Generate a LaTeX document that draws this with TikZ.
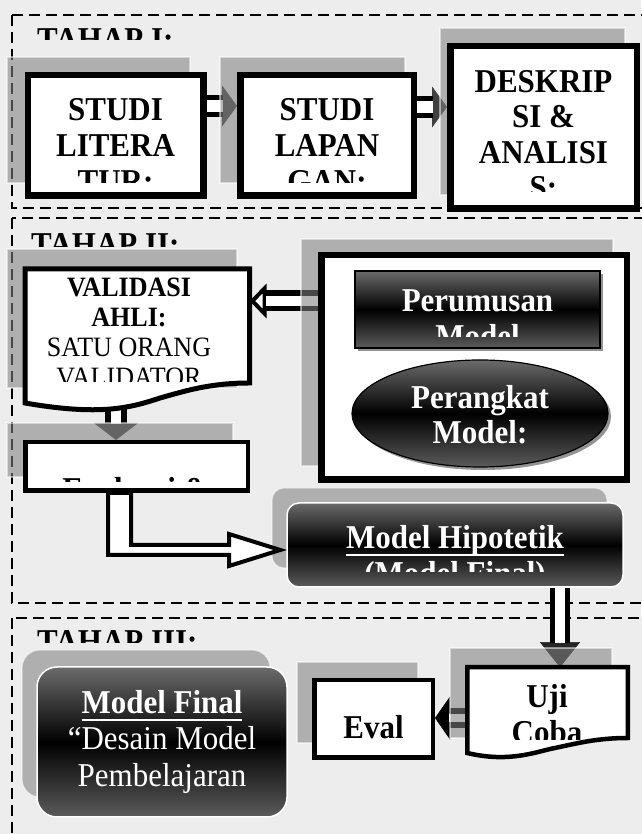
\documentclass[tikz,border=0pt]{standalone}
\usepackage{fontspec}
\setmainfont{Liberation Serif}[FakeStretch=0.93]
\usetikzlibrary{arrows.meta,shapes.geometric,shadows}

\definecolor{marble}{HTML}{EDEDED}
\definecolor{sombre}{HTML}{6B6B6B}

\newsavebox{\garisbox}
\newcommand{\garis}[1]{\sbox{\garisbox}{#1}\rlap{\rule[-7.5pt]{\wd\garisbox}{2.3pt}}\usebox{\garisbox}}

\pgfdeclarelayer{bg}
\pgfdeclarelayer{arr}
\pgfdeclarelayer{shd}
\pgfsetlayers{bg,arr,shd,main}

\tikzset{
  tahap/.style={draw, line width=2.5pt, dash pattern=on 11pt off 6pt, fill=marble},
  bayang/.style={fill=black!50, fill opacity=0.57, draw=white, draw opacity=0.5, line width=1.2pt},
  kotak/.style={draw, line width=6.5pt, fill=white, inner sep=0pt},
  kotaktipis/.style={draw, line width=4.5pt, fill=white, inner sep=0pt},
  dokumen/.style={draw, line width=5pt, fill=white, line join=miter},
  gelap/.style={draw, line width=1.2pt, top color=sombre, bottom color=sombre!85!black, middle color=black, inner sep=0pt,
    drop shadow={shadow xshift=3pt, shadow yshift=-3pt, fill=black!60, opacity=0.7}},
  bulat/.style={draw=white, line width=1.5pt, top color=sombre, bottom color=sombre!85!black, middle color=black, inner sep=0pt},
  isi/.style={font=\bfseries\fontsize{33.3}{36}\selectfont, align=center, inner sep=0pt, anchor=north},
  judul/.style={font=\bfseries\fontsize{33.3}{36}\selectfont, inner sep=0pt, anchor=north west},
  batang/.style={line width=#1, double=white},
  blok/.style={draw, line width=4pt, fill=white, line join=miter},
}

\begin{document}
\begin{tikzpicture}[x=1pt,y=1pt]
\useasboundingbox (0,0) rectangle (641,834);

\begin{pgfonlayer}{bg}
\fill[marble] (0,0) rectangle (641,834);
\draw[tahap] (12,819) rectangle (700,626);
\draw[tahap] (12,616) rectangle (700,231);
\draw[tahap] (12,216) rectangle (700,-30);
\begin{scope}
\clip (30,812) rectangle (300,794);
\node[judul] (tahap1) at (37,806) {TAHAP I:};
\end{scope}
\begin{scope}
\clip (25,606) rectangle (300,587);
\node[judul] (tahap2) at (31,601) {TAHAP II:};
\end{scope}
\begin{scope}
\clip (30,210) rectangle (300,191);
\node[judul] (tahap3) at (37,204) {TAHAP III:};
\end{scope}
\end{pgfonlayer}

% tahap I
\node[kotak, minimum width=175.5pt, minimum height=120.5pt] (studilit) at (115.5,698.5) {};
\node[kotak, minimum width=173.5pt, minimum height=120.5pt] (studilap) at (327,698.5) {};
\node[kotak, minimum width=186.5pt, minimum height=162.5pt] (deskrip) at (543.5,706.5) {};

% tahap II
\draw[dokumen] (25,565) coordinate (valnw) -- (249.5,565) coordinate (valne) -- (249.5,451)
  .. controls (210,451) and (185,443) .. (160,436)
  .. controls (130,426) and (100,418) .. (25,431) -- cycle;
\node[kotak, minimum width=305.5pt, minimum height=224.5pt] (wadah) at (474,466.5) {};
\node[gelap, minimum width=245pt, minimum height=77pt] (rumusan) at (477.5,524.5) {};
\node[gelap, ellipse, minimum width=256pt, minimum height=107pt] (perangkat) at (480,420.5) {};
\node[kotaktipis, minimum width=222.5pt, minimum height=48.5pt] (evaluasi) at (136.5,367.5) {};
\node[bulat, rounded corners=12pt, minimum width=336pt, minimum height=84pt] (hipotetik) at (455,289) {};

% tahap III
\node[bulat, rounded corners=20pt, minimum width=250pt, minimum height=150pt] (final) at (162,92) {};
\node[kotaktipis, minimum width=118.5pt, minimum height=77.5pt] (eval) at (373.5,115) {};
\draw[dokumen, line width=4.5pt] (467.25,166.75) coordinate (ujinw) -- (627.75,166.75) -- (627.75,96)
  .. controls (595,96) and (575,90) .. (550,85)
  .. controls (530,80) and (505,72) .. (467.25,81) -- cycle;
\coordinate (ujin) at (560,166.75);

\begin{pgfonlayer}{shd}
\draw[bayang] (7,777) rectangle (190,651);
\draw[bayang] (220,777) rectangle (405,651);
\draw[bayang] (440,806) rectangle (625,639);
\draw[bayang] (7,585) rectangle (237,446);
\draw[bayang] (301,595) rectangle (613,368);
\draw[bayang] (7,411) rectangle (233,357);
\draw[bayang, rounded corners=12pt] (272,346) rectangle (607,266);
\draw[bayang, rounded corners=18pt] (22,184) rectangle (270,37);
\draw[bayang] (297,172) rectangle (418,91);
\draw[bayang] (450,186) rectangle (612,96);
\end{pgfonlayer}

\begin{pgfonlayer}{arr}
\coordinate (a1) at ([yshift=29.5pt]studilit.east);
\draw[black!75, -{Triangle[length=15pt,width=41pt]}] (a1) -- (a1 -| studilap.west);
\draw[batang=5pt, double distance=12pt, shorten >=14pt] (a1) -- (a1 -| studilap.west);
\coordinate (a2) at ([yshift=28.5pt]studilap.east);
\draw[black!75, -{Triangle[length=15pt,width=41pt]}] (a2) -- (a2 -| deskrip.west);
\draw[batang=5pt, double distance=12pt, shorten >=14pt] (a2) -- (a2 -| deskrip.west);
\coordinate (a3) at ([yshift=66.5pt]wadah.west);
\draw[line width=4pt, -{Triangle[length=17pt,width=34pt,fill=white]}] (a3) -- (a3 -| valne);
\draw[batang=5.5pt, double distance=10pt, shorten >=16pt] (a3) -- (a3 -| valne);
\coordinate (a4) at (116,432);
\draw[black!75, -{Triangle[length=17pt,width=44pt]}] (a4) -- (a4 |- evaluasi.north);
\draw[batang=6pt, double distance=10pt, shorten >=16pt] (a4) -- (a4 |- evaluasi.north);
\coordinate (a6) at (560,0 |- hipotetik.south);
\draw[black!85, -{Triangle[length=25pt,width=40pt]}] (a6) -- (a6 |- ujin);
\draw[batang=5pt, double distance=10pt, shorten >=24pt] (a6) -- (a6 |- ujin);
\coordinate (a7) at (470,116);
\draw[-{Triangle[length=15pt,width=43pt]}] (a7) -- (a7 -| eval.east);
\draw[batang=6pt, double distance=8pt, shorten >=14pt] (a7) -- (a7 -| eval.east);
\end{pgfonlayer}

\draw[blok] (108,0 |- evaluasi.south) -- (131,0 |- evaluasi.south) -- (131,289) -- (229,289) -- (229,300)
  -- ([xshift=-6pt,yshift=-5pt]hipotetik.west) -- (229,268) -- (229,279) -- (108,279) -- cycle;

% texts
\begin{scope}
\clip (28,754) rectangle (203,651);
\node[isi] (teks1) at (115.5,736) {STUDI\\LITERA\\TUR:};
\end{scope}
\begin{scope}
\clip (240,754) rectangle (414,651);
\node[isi] (teks2) at (327,736) {STUDI\\LAPAN\\GAN:};
\end{scope}
\begin{scope}
\clip (451,785) rectangle (636,642);
\node[isi, font=\bfseries\fontsize{33.3}{35.5}\selectfont] (teks3) at (543.5,764) {DESKRIP\\SI \&\\ANALISI\\S:};
\end{scope}
\begin{scope}
\clip (27,563) rectangle (247,452);
\node[isi, font=\fontsize{28}{30}\selectfont] (teks4) at (129,556) {\textbf{VALIDASI}\\\textbf{AHLI:}\\SATU ORANG\\VALIDATOR};
\end{scope}
\begin{scope}
\clip (357,552) rectangle (599,497);
\node[isi, text=white] (teks5) at (477.5,544) {Perumusan\\Model};
\end{scope}
\node[isi, text=white, font=\bfseries\fontsize{33.3}{35}\selectfont] (teks6) at (480,449) {Perangkat\\Model:};
\begin{scope}
\clip (26,390) rectangle (247,352);
\node[isi] (teks7) at (136,357) {Evaluasi \&};
\end{scope}
\begin{scope}
\clip (290,330) rectangle (620,262);
\node[isi, text=white] (teks8) at (455,309) {\garis{Model Hipotetik}\\(Model Final)};
\end{scope}
\node[isi, text=white, font=\fontsize{33.3}{36.5}\selectfont] (teks9) at (162,144) {\garis{\textbf{Model Final}}\\“Desain Model\\Pembelajaran};
\node[isi] (teks10) at (373.5,119) {Eval};
\begin{scope}
\clip (470,165) rectangle (625,94);
\node[isi] (teks11) at (547,150) {Uji\\Coba};
\end{scope}
\end{tikzpicture}
\end{document}
